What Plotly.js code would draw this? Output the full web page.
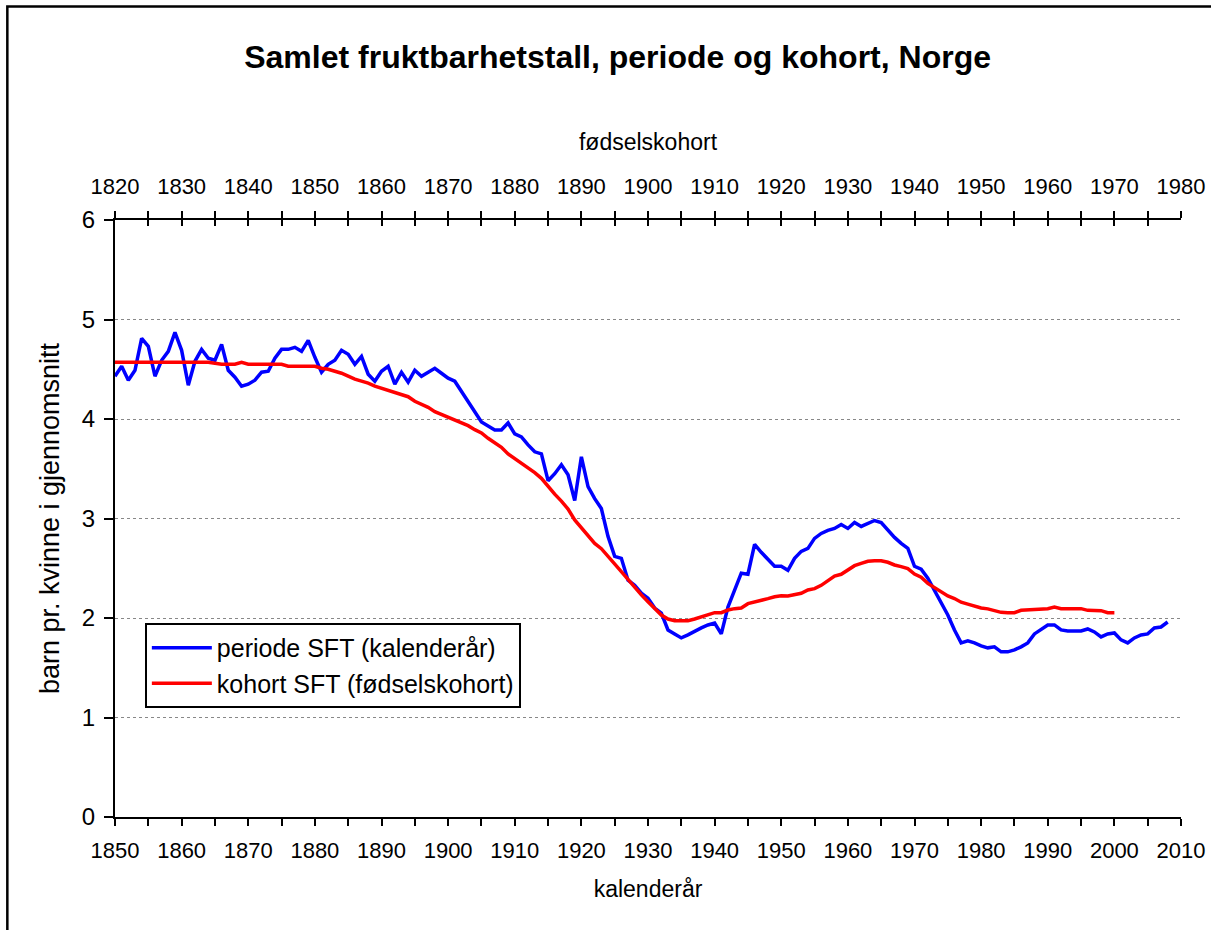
<!DOCTYPE html>
<html>
<head>
<meta charset="utf-8">
<script src="https://cdn.plot.ly/plotly-3.0.1.min.js"></script>
<style>
html,body{margin:0;padding:0;background:#fff;}
#chart{width:1211px;height:930px;}
</style>
</head>
<body>
<div id="chart"></div>
<script>
// Periode SFT (calendar years 1850-2008)
const periodFirstYear = 1850;
const periodValues = [
4.43,4.53,4.39,4.49,4.81,4.73,4.43,4.59,4.68,4.87,
4.69,4.34,4.58,4.70,4.61,4.59,4.75,4.49,4.42,4.33,
4.35,4.39,4.47,4.48,4.61,4.70,4.70,4.72,4.68,4.79,
4.62,4.47,4.55,4.59,4.69,4.65,4.55,4.63,4.45,4.38,
4.48,4.53,4.35,4.47,4.37,4.49,4.43,4.47,4.51,4.46,
4.41,4.38,4.28,4.17,4.07,3.97,3.93,3.89,3.89,3.96,
3.85,3.82,3.74,3.67,3.65,3.38,3.45,3.54,3.44,3.18,
3.62,3.32,3.20,3.10,2.82,2.62,2.60,2.38,2.33,2.25,
2.20,2.10,2.05,1.88,1.84,1.80,1.83,1.87,1.90,1.93,
1.95,1.84,2.11,2.28,2.45,2.44,2.74,2.66,2.59,2.52,
2.52,2.48,2.60,2.67,2.70,2.80,2.85,2.88,2.90,2.94,
2.90,2.96,2.92,2.95,2.98,2.96,2.88,2.81,2.75,2.70,
2.52,2.49,2.40,2.28,2.16,2.03,1.88,1.75,1.77,1.75,
1.72,1.70,1.71,1.66,1.66,1.68,1.71,1.75,1.84,1.89,
1.93,1.93,1.88,1.87,1.87,1.87,1.89,1.86,1.81,1.84,
1.85,1.78,1.75,1.80,1.83,1.84,1.90,1.91,1.96
];
// Kohort SFT (birth cohorts 1820-1970)
const cohortFirstYear = 1820;
const cohortValues = [
4.57,4.57,4.57,4.57,4.57,4.57,4.57,4.57,4.57,4.57,
4.57,4.57,4.57,4.57,4.57,4.56,4.55,4.55,4.55,4.57,
4.55,4.55,4.55,4.55,4.55,4.55,4.53,4.53,4.53,4.53,
4.53,4.51,4.50,4.48,4.46,4.43,4.40,4.38,4.36,4.33,
4.31,4.285,4.265,4.25,4.224,4.178,4.146,4.117,4.074,4.047,
4.017,3.990,3.967,3.933,3.893,3.860,3.806,3.762,3.716,3.649,
3.602,3.562,3.515,3.461,3.404,3.320,3.245,3.175,3.095,2.985,
2.910,2.834,2.750,2.697,2.616,2.540,2.466,2.389,2.305,2.232,
2.164,2.097,2.030,1.990,1.973,1.973,1.973,1.990,2.010,2.030,
2.054,2.054,2.080,2.094,2.100,2.144,2.161,2.170,2.195,2.214,
2.223,2.221,2.232,2.248,2.281,2.295,2.328,2.372,2.422,2.439,
2.482,2.526,2.549,2.570,2.576,2.576,2.560,2.533,2.516,2.496,
2.442,2.409,2.348,2.308,2.261,2.221,2.196,2.159,2.140,2.122,
2.100,2.092,2.077,2.057,2.053,2.053,2.077,2.080,2.090,2.094,
2.094,2.110,2.094,2.094,2.094,2.094,2.077,2.074,2.074,2.053,
2.053
];
const periodYears = periodValues.map((_, i) => periodFirstYear + i);
const cohortYears = cohortValues.map((_, i) => cohortFirstYear + i);

const seriesNames = ['periode SFT (kalenderår)', 'kohort SFT (fødselskohort)'];
const titleText = 'Samlet fruktbarhetstall, periode og kohort, Norge';
const font = 'Arial, "Liberation Sans", sans-serif';

const traces = [
  {x: periodYears, y: periodValues, name: seriesNames[0], type: 'scatter', mode: 'lines',
   line: {color: '#0000FF', width: 3.5}, xaxis: 'x', yaxis: 'y'},
  {x: cohortYears, y: cohortValues, name: seriesNames[1], type: 'scatter', mode: 'lines',
   line: {color: '#FF0000', width: 3.5}, xaxis: 'x2', yaxis: 'y'}
];

const layout = {
  width: 1211, height: 930,
  paper_bgcolor: '#fff', plot_bgcolor: '#fff',
  margin: {l: 115, r: 30, t: 220, b: 113, pad: 0},
  font: {family: font, color: '#000'},
  title: {text: '<b>' + titleText + '</b>', font: {size: 32, family: font, color: '#000'},
          x: 0.51, xanchor: 'center', y: 1 - 57/930, yanchor: 'middle'},
  showlegend: true,
  legend: {x: 0.028, y: 0.325, xanchor: 'left', yanchor: 'top', itemwidth: 60,
           bgcolor: '#fff', bordercolor: '#000', borderwidth: 2,
           font: {size: 25, family: font, color: '#000'}},
  xaxis: {range: [1850, 2010], dtick: 10, tick0: 1850, showline: true, linecolor: '#000', linewidth: 2,
          ticks: 'outside', ticklen: 7, tickwidth: 2, tickcolor: '#000', mirror: 'ticks',
          minor: {dtick: 5, ticks: 'outside', ticklen: 7, tickwidth: 2, tickcolor: '#000'},
          showgrid: false, zeroline: false,
          tickfont: {size: 22, family: font, color: '#000'}, ticklabelstandoff: 6,
          title: {text: 'kalenderår', font: {size: 23, family: font, color: '#000'}, standoff: 18}},
  xaxis2: {range: [1820, 1980], dtick: 10, tick0: 1820, overlaying: 'x', side: 'top',
           showline: false, ticks: 'inside', ticklen: 6, tickwidth: 2, tickcolor: '#000',
           minor: {dtick: 5, ticks: 'inside', ticklen: 6, tickwidth: 2, tickcolor: '#000'},
           showgrid: false, zeroline: false,
           tickfont: {size: 22, family: font, color: '#000'}, ticklabelstandoff: 21,
           title: {text: 'fødselskohort', font: {size: 23, family: font, color: '#000'}, standoff: 16}},
  yaxis: {range: [0, 6], dtick: 1, showline: true, linecolor: '#000', linewidth: 2,
          ticks: 'outside', ticklen: 9, tickwidth: 2, tickcolor: '#000',
          showgrid: true, gridcolor: '#888', griddash: 'dot', gridwidth: 1, zeroline: false,
          tickfont: {size: 24, family: font, color: '#000'}, ticklabelstandoff: 4,
          title: {text: 'barn pr. kvinne i gjennomsnitt', font: {size: 27, family: font, color: '#000'}, standoff: 14}},
  shapes: [
    {type: 'rect', xref: 'paper', yref: 'paper', x0: -0.101, x1: 1.3, y0: -0.5, y1: 1.3576,
     line: {color: '#000', width: 2.5}, fillcolor: 'rgba(0,0,0,0)', layer: 'above'}
  ]
};

Plotly.newPlot('chart', traces, layout, {displayModeBar: false, staticPlot: true});
</script>
</body>
</html>
